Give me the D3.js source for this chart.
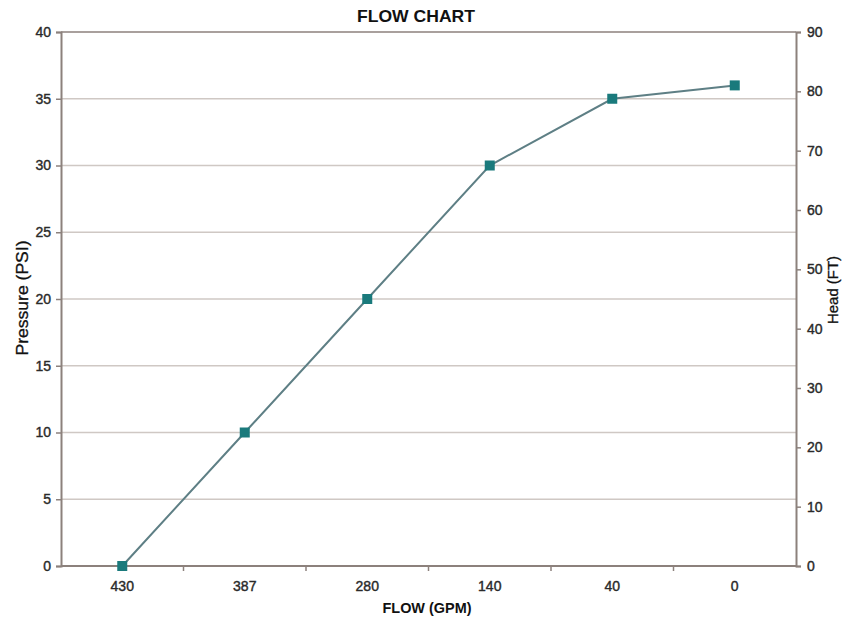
<!DOCTYPE html>
<html><head><meta charset="utf-8">
<script src="https://cdn.jsdelivr.net/npm/d3@7"></script>
<style>body{margin:0;background:#fff}svg{display:block}text{font-family:"Liberation Sans",Arial,sans-serif}</style>
</head><body><svg id="c" width="855" height="617"></svg>
<script>
const categories = ["430","387","280","140","40","0"];
const pressure = [0,10,20,30,35,36];
const leftTicks = [0,5,10,15,20,25,30,35,40];
const rightTicks = [0,10,20,30,40,50,60,70,80,90];

const svg = d3.select("#c");
const m = {l:61, r:796, t:32, b:566};
const x = d3.scaleBand().domain(categories).range([m.l, m.r]);
const y = d3.scaleLinear().domain([0,40]).range([m.b, m.t]);
const y2 = d3.scaleLinear().domain([0,90]).range([m.b, m.t]);
const axisCol = "#8c817c", gridCol = "#cfc8c4", txtCol = "#2a2a2a";

// gridlines
svg.append("g").selectAll("line").data(leftTicks.filter(d=>d>0)).join("line")
  .attr("x1", m.l).attr("x2", m.r).attr("y1", d=>y(d)).attr("y2", d=>y(d))
  .attr("stroke", d=>d===40?axisCol:gridCol).attr("stroke-width", 1.5);

// left axis
const gl = svg.append("g").attr("transform",`translate(${m.l},0)`)
  .call(d3.axisLeft(y).tickValues(leftTicks).tickSize(5).tickPadding(5));
// right axis
const gr = svg.append("g").attr("transform",`translate(${m.r},0)`)
  .call(d3.axisRight(y2).tickValues(rightTicks).tickSize(5).tickPadding(6));
// bottom axis
const gb = svg.append("g").attr("transform",`translate(0,${m.b})`)
  .call(d3.axisBottom(x).tickSize(0).tickPadding(15));
// category boundary ticks
svg.append("g").selectAll("line").data(categories.slice(1)).join("line")
  .attr("x1", d=>x(d)).attr("x2", d=>x(d)).attr("y1", m.b).attr("y2", m.b+5)
  .attr("stroke", axisCol).attr("stroke-width", 1.5);

[gl,gr,gb].forEach(g=>{
  g.select(".domain").attr("stroke", axisCol).attr("stroke-width", 2);
  g.selectAll(".tick line").attr("stroke", axisCol).attr("stroke-width", 1.5);
  g.selectAll("text").attr("fill", txtCol).attr("stroke", txtCol).attr("stroke-width", 0.4)
    .style("font-size","14px").style("font-family",'"Liberation Sans",Arial,sans-serif');
});
gb.select(".domain").attr("d", `M${m.l},0H${m.r}`);

// line
const line = d3.line().x((d,i)=>x(categories[i])+x.bandwidth()/2).y(d=>y(d));
svg.append("path").datum(pressure).attr("d", line).attr("fill","none")
  .attr("stroke","#5e7f85").attr("stroke-width",2);
svg.append("g").selectAll("rect").data(pressure).join("rect")
  .attr("x",(d,i)=>x(categories[i])+x.bandwidth()/2-5).attr("y",d=>y(d)-5)
  .attr("width",10).attr("height",10).attr("fill","#1a7a7c");

// titles
svg.append("text").attr("x",416).attr("y",22).attr("text-anchor","middle")
  .style("font-size","16.5px").style("font-weight","bold").attr("fill","#111")
  .attr("textLength",118).attr("lengthAdjust","spacingAndGlyphs").text("FLOW CHART");
svg.append("text").attr("x",427).attr("y",613).attr("text-anchor","middle")
  .style("font-size","14px").style("font-weight","bold").attr("fill","#111")
  .attr("textLength",89).attr("lengthAdjust","spacingAndGlyphs").text("FLOW (GPM)");
svg.append("text").attr("transform","translate(28,298) rotate(-90)").attr("text-anchor","middle")
  .style("font-size","16px").attr("fill","#111").attr("stroke","#111").attr("stroke-width",0.3)
  .attr("textLength",115).attr("lengthAdjust","spacingAndGlyphs").text("Pressure (PSI)");
svg.append("text").attr("transform","translate(838,290) rotate(-90)").attr("text-anchor","middle")
  .style("font-size","15px").attr("fill","#111").attr("stroke","#111").attr("stroke-width",0.3)
  .attr("textLength",68).attr("lengthAdjust","spacingAndGlyphs").text("Head (FT)");
</script></body></html>
